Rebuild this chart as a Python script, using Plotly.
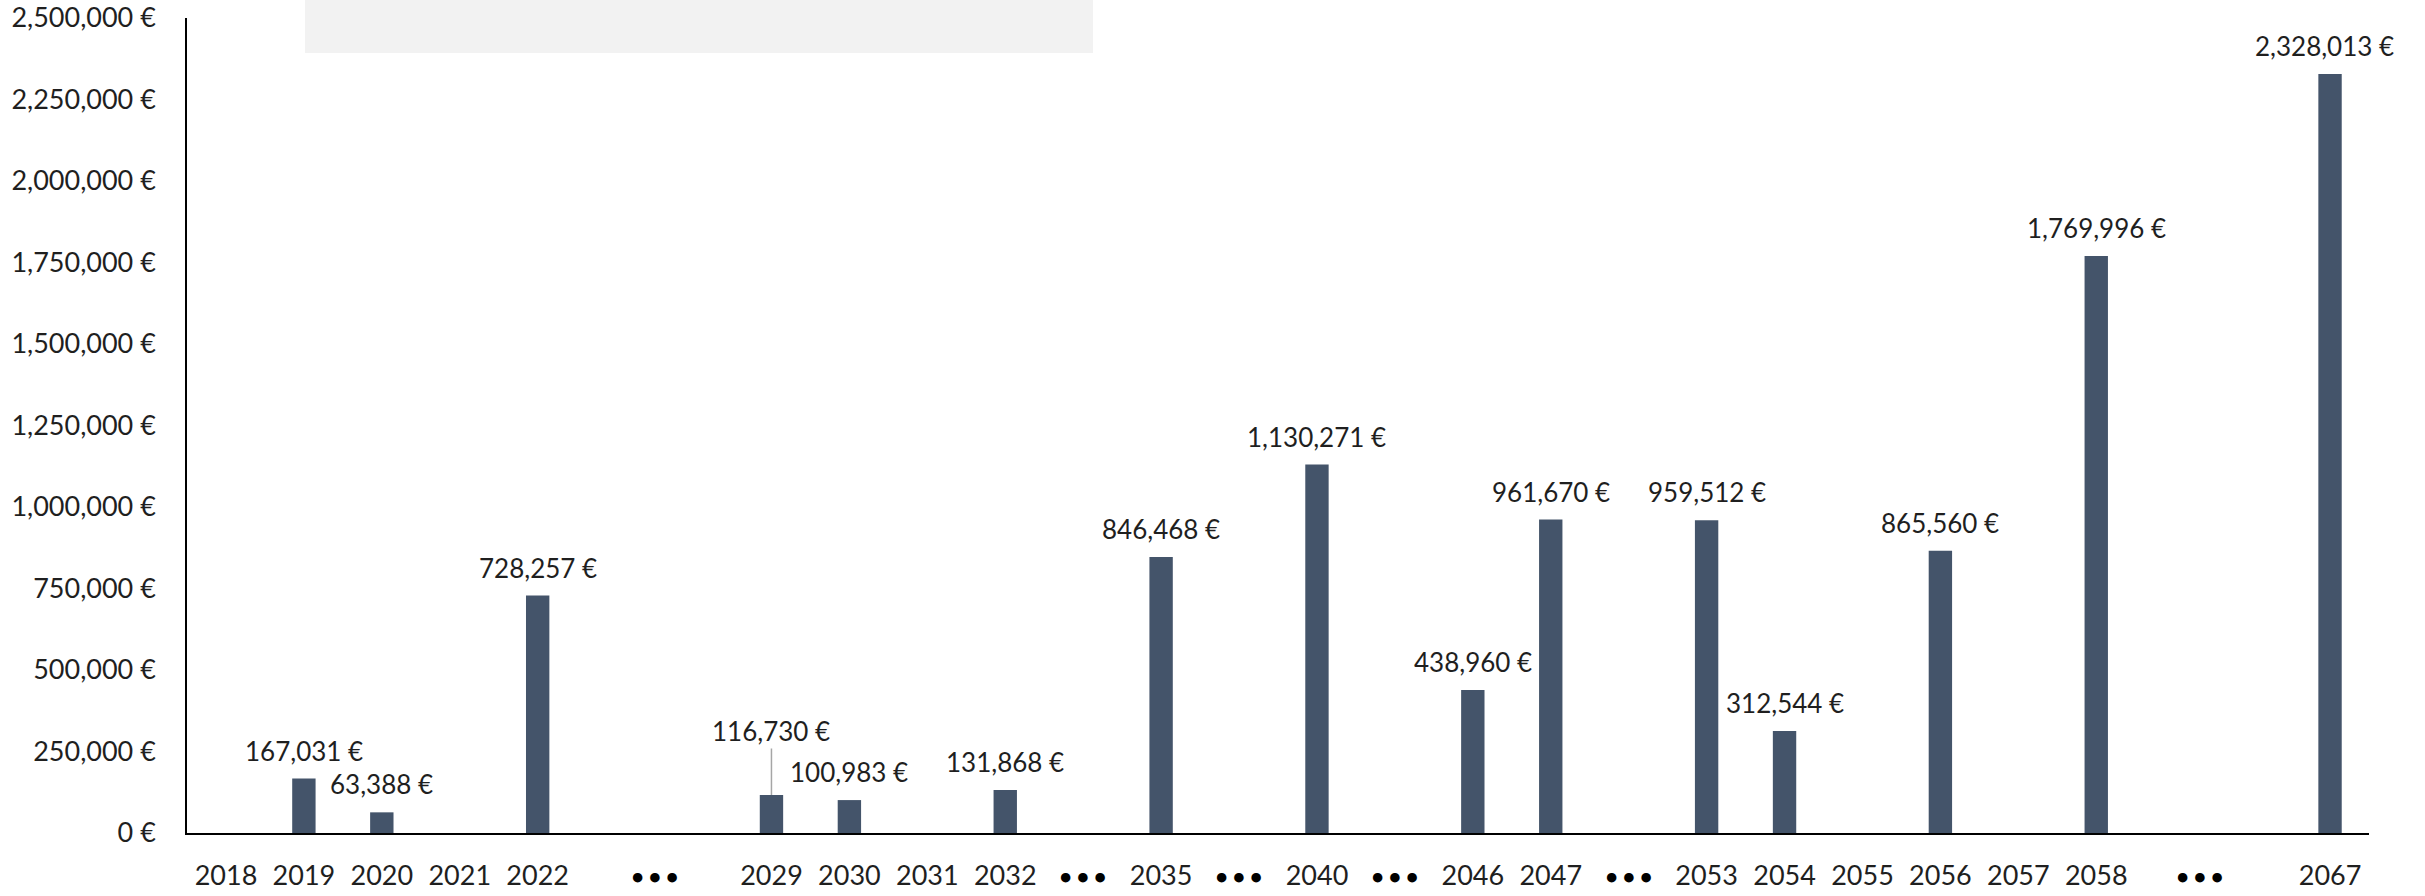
import plotly.graph_objects as go

# Category labels along the x axis ("" = empty slot, "•••" = skipped years)
categories = ["2018", "2019", "2020", "2021", "2022", "", "", "2029", "2030", "2031",
              "2032", "•••", "2035", "•••", "2040", "•••", "2046", "2047", "•••", "2053",
              "2054", "2055", "2056", "2057", "2058", "", "", "2067"]

# Values in euro (None = no bar)
values = [None, 167031, 63388, None, 728257, None, None, 116730, 100983, None,
          131868, None, 846468, None, 1130271, None, 438960, 961670, None, 959512,
          312544, None, 865560, None, 1769996, None, None, 2328013]

# Extra "•••" markers placed between slots
gap_dots = [5.5, 25.33]

y_ticks = [0, 250000, 500000, 750000, 1000000, 1250000, 1500000, 1750000,
           2000000, 2250000, 2500000]
y_tick_text = [f"{v:,} €" for v in y_ticks]

FONT = "Lato, 'Liberation Sans', Arial, sans-serif"
TXT = "#1f1f1f"
BAR = "#44546A"

xs = list(range(len(categories)))

fig = go.Figure()
fig.add_trace(go.Bar(
    x=xs, y=values, marker=dict(color=BAR, line=dict(width=0)),
    width=0.3, hoverinfo="skip", showlegend=False,
))

annotations = []
dot_positions = [i for i, c in enumerate(categories) if c == "•••"] + gap_dots
for g in dot_positions:
    annotations.append(dict(x=g, y=-0.056, xref="x", yref="paper", text="<b>•••</b>",
                            showarrow=False, font=dict(family="'DejaVu Sans', sans-serif", size=27, color="#000"),
                            xanchor="center", yanchor="middle"))

# data labels
for i, v in enumerate(values):
    if v is None:
        continue
    label = f"{v:,} €"
    if v == 116730:
        annotations.append(dict(x=i, y=v, xref="x", yref="y", text=label,
                                showarrow=True, ax=0, ay=-64, arrowhead=0,
                                arrowwidth=1.5, arrowcolor="#A6A6A6", standoff=0,
                                font=dict(family=FONT, size=26, color=TXT)))
    else:
        annotations.append(dict(x=i, y=v, xref="x", yref="y", text=label,
                                showarrow=False, yshift=28, xshift=(-6 if i == 27 else 0),
                                xanchor="center", yanchor="middle",
                                font=dict(family=FONT, size=26, color=TXT)))

tick_vals = [i for i, c in enumerate(categories) if c not in ("", "•••")]
tick_text = [categories[i] for i in tick_vals]

fig.update_layout(
    width=2425, height=896,
    margin=dict(l=187, r=56, t=18, b=63),
    paper_bgcolor="white", plot_bgcolor="white",
    font=dict(family=FONT, size=27, color=TXT),
    annotations=annotations,
    bargap=0.7,
    shapes=[dict(type="rect", xref="paper", yref="paper",
                 x0=0.0541, x1=0.4152, y0=0.957, y1=1.03,
                 fillcolor="#F2F2F2", line=dict(width=0), layer="below")],
    xaxis=dict(range=[-0.5, 27.5], tickvals=tick_vals, ticktext=tick_text,
               showline=True, linecolor="#000", linewidth=2, ticks="",
               showgrid=False, zeroline=False, ticklabelstandoff=18, automargin=False,
               tickfont=dict(family=FONT, size=27, color=TXT)),
    yaxis=dict(range=[0, 2500000], tickvals=y_ticks, ticktext=y_tick_text,
               showline=True, linecolor="#000", linewidth=1.5, ticks="",
               showgrid=False, zeroline=False, ticklabelstandoff=24, automargin=False,
               tickfont=dict(family=FONT, size=27, color=TXT)),
)

fig.write_html("out.html", config={"displayModeBar": False},
               post_script="document.body.style.margin='0px';document.body.style.overflow='hidden';")
